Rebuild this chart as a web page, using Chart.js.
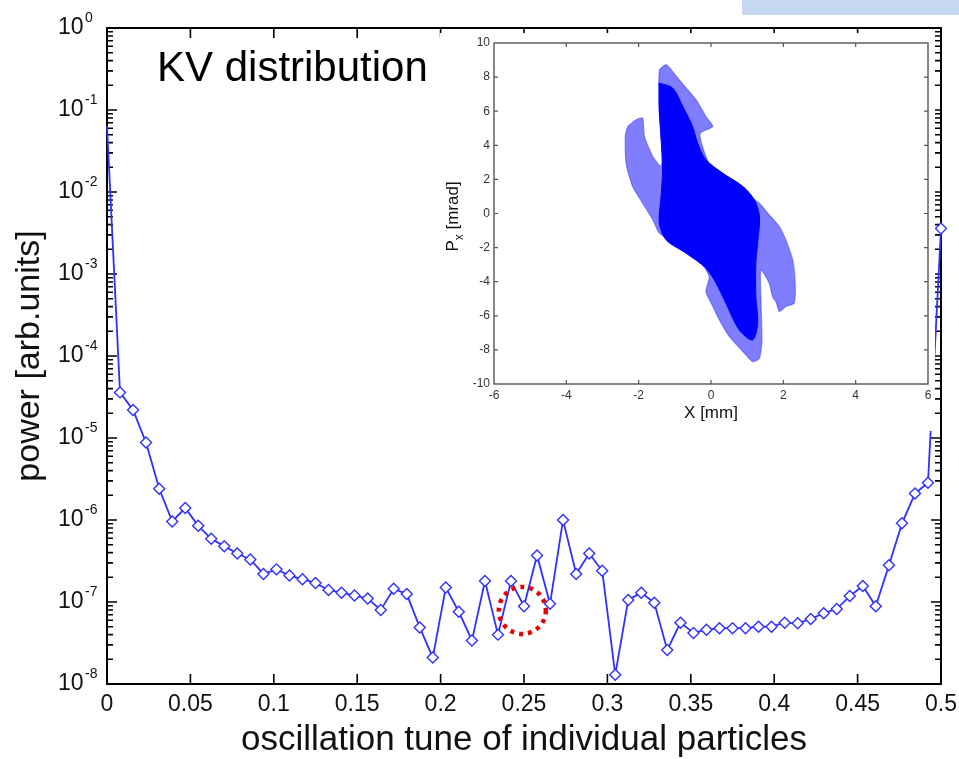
<!DOCTYPE html>
<html><head><meta charset="utf-8">
<script src="https://cdn.jsdelivr.net/npm/chart.js@4.4.1/dist/chart.umd.min.js"></script>
<style>
html,body{margin:0;padding:0;background:#fff;}
#wrap{position:relative;width:959px;height:759px;overflow:hidden;background:#fff;}
#main{position:absolute;left:0;top:0;}
#inset{position:absolute;left:440px;top:33px;background:#fff;}
#band{position:absolute;left:742px;top:0;width:217px;height:15px;background:#c6d9f1;}
</style></head><body>
<div id="wrap">
<canvas id="main" width="959" height="759"></canvas>
<canvas id="inset" width="495" height="398"></canvas>
<div id="band"></div>
</div>
<script>
// ---------- main chart data ----------
const tune = [0,0.0078,0.0156,0.0234,0.0313,0.0391,0.0469,0.0547,0.0625,0.0703,
  0.0781,0.0859,0.0938,0.1016,0.1094,0.1172,0.125,0.1328,0.1406,0.1484,
  0.1563,0.1641,0.1719,0.1797,0.1875,0.1953,0.2031,0.2109,0.2188,0.2266,
  0.2344,0.2422,0.25,0.2578,0.2656,0.2734,0.2813,0.2891,0.2969,0.3047,
  0.3125,0.3203,0.3281,0.3359,0.3438,0.3516,0.3594,0.3672,0.375,0.3828,
  0.3906,0.3984,0.4063,0.4141,0.4219,0.4297,0.4375,0.4453,0.4531,0.4609,
  0.4688,0.4766,0.4844,0.4922,0.5];
const power = [6.4e-2,3.6e-5,2.2e-5,8.8e-6,2.4e-6,9.6e-7,1.4e-6,8.5e-7,5.9e-7,4.8e-7,
  3.9e-7,3.3e-7,2.2e-7,2.5e-7,2.1e-7,1.9e-7,1.7e-7,1.4e-7,1.3e-7,1.2e-7,
  1.1e-7,8.0e-8,1.45e-7,1.25e-7,4.9e-8,2.1e-8,1.5e-7,7.6e-8,3.4e-8,1.8e-7,
  4.0e-8,1.8e-7,8.9e-8,3.7e-7,9.5e-8,1.0e-6,2.2e-7,3.9e-7,2.4e-7,1.3e-8,
  1.06e-7,1.3e-7,9.8e-8,2.6e-8,5.6e-8,4.2e-8,4.6e-8,4.8e-8,4.8e-8,4.8e-8,
  5.0e-8,5.0e-8,5.6e-8,5.5e-8,6.2e-8,7.3e-8,8.2e-8,1.18e-7,1.57e-7,8.9e-8,
  2.8e-7,9.1e-7,2.1e-6,2.85e-6,3.6e-3];
const xTicks = [0,0.05,0.1,0.15,0.2,0.25,0.3,0.35,0.4,0.45,0.5];
const xTickLabels = ['0','0.05','0.1','0.15','0.2','0.25','0.3','0.35','0.4','0.45','0.5'];
const yDecades = [1,1e-1,1e-2,1e-3,1e-4,1e-5,1e-6,1e-7,1e-8];
const yExponents = ['0','-1','-2','-3','-4','-5','-6','-7','-8'];
const chartTitle = 'KV distribution';
const xTitle = 'oscillation tune of individual particles';
const yTitle = 'power [arb.units]';
const markTune = 0.249, markPower = 7.9e-8;

// ---------- inset data ----------
const insetXTicks = [-6,-4,-2,0,2,4,6];
const insetYTicks = [-10,-8,-6,-4,-2,0,2,4,6,8,10];
const insetXTitle = 'X [mm]';
const insetYTitleMain = 'P', insetYTitleSub = 'x', insetYTitleRest = ' [mrad]';
const blobOuterX = [-1.43,-1.24,-0.88,-0.41,-0.14,0.05,-0.3,-0.23,-0.05,0.32,0.97,1.34,1.61,1.89,2.07,2.26,2.33,2.3,2.07,1.89,1.8,1.7,1.61,1.38,1.38,1.41,1.34,1.15,0.88,0.51,0.23,0.05,-0.14,-0.05,-0.32,-0.88,-1.43,-1.61,-1.89,-2.17,-2.35,-2.37,-2.3,-2.07,-1.89,-1.84,-1.61,-1.38,-1.34,-1.43,-1.45,-1.43];
const blobOuterY = [8.43,8.73,7.85,6.67,5.69,5.1,4.7,3.9,2.95,2.37,1.19,0.6,-0.08,-0.76,-1.55,-2.72,-4.09,-5.26,-5.46,-5.75,-5.2,-4.87,-4.09,-3.3,-4.87,-7.42,-8.49,-8.69,-8.1,-7.22,-6.24,-5.46,-4.58,-3.7,-2.72,-1.94,-1.15,-0.37,0.6,1.59,2.95,4.52,5.1,5.5,5.6,4.52,3.35,2.76,3.93,5.89,7.46,8.43];
const blobCoreX = [-1.43,-1.06,-0.78,-0.51,-0.37,-0.14,0.32,0.88,1.2,1.34,1.29,1.24,1.24,1.29,1.15,0.78,0.41,0.14,-0.14,-0.69,-1.24,-1.43,-1.38,-1.34,-1.38,-1.43,-1.43];
const blobCoreY = [7.65,7.36,6.28,5.11,4.13,3.15,2.37,1.59,0.8,-0.18,-1.74,-2.92,-4.87,-6.44,-7.42,-6.83,-5.26,-4.09,-3.21,-2.33,-1.55,-0.57,1.0,2.56,4.32,6.08,7.65];

const FONT = "'Liberation Sans', Arial, Helvetica, sans-serif";

// ---------- main chart decorations ----------
const mainDecor = {
  id: 'mainDecor',
  beforeDatasetsDraw(chart) {
    const {ctx, chartArea: a, scales: {x, y}} = chart;
    ctx.save();
    ctx.strokeStyle = '#000';
    ctx.lineWidth = 1.6;
    ctx.beginPath();
    xTicks.forEach(v => {
      if (v === xTicks[0] || v === xTicks[xTicks.length - 1]) return;
      const px = x.getPixelForValue(v);
      ctx.moveTo(px, a.bottom); ctx.lineTo(px, a.bottom - 10);
      ctx.moveTo(px, a.top); ctx.lineTo(px, a.top + 10);
    });
    yDecades.forEach((d, i) => {
      const py = y.getPixelForValue(d);
      ctx.moveTo(a.left, py); ctx.lineTo(a.left + 10, py);
      ctx.moveTo(a.right, py); ctx.lineTo(a.right - 10, py);
      if (i < yDecades.length - 1) {
        for (let m = 2; m <= 9; m++) {
          const pm = y.getPixelForValue(d / 10 * m);
          ctx.moveTo(a.left, pm); ctx.lineTo(a.left + 6, pm);
          ctx.moveTo(a.right, pm); ctx.lineTo(a.right - 6, pm);
        }
      }
    });
    ctx.stroke();
    ctx.lineWidth = 2;
    ctx.strokeRect(a.left, a.top, a.right - a.left, a.bottom - a.top);
    // y tick labels 10^k
    ctx.fillStyle = '#111';
    yDecades.forEach((d, i) => {
      const py = y.getPixelForValue(d);
      ctx.font = '23px ' + FONT;
      ctx.textAlign = 'right'; ctx.textBaseline = 'alphabetic';
      ctx.fillText('10', 83.5, py + 6);
      ctx.font = '14px ' + FONT;
      ctx.textAlign = 'left';
      ctx.fillText(yExponents[i], 85, py - 6);
    });
    // title
    ctx.font = '42px ' + FONT;
    ctx.textAlign = 'left'; ctx.textBaseline = 'alphabetic';
    ctx.fillStyle = '#000';
    ctx.fillText(chartTitle, 157, 81);
    ctx.restore();
  },
  afterDatasetsDraw(chart) {
    const {ctx, scales: {x, y}} = chart;
    ctx.save();
    ctx.strokeStyle = '#e80000';
    ctx.lineWidth = 4.5;
    ctx.setLineDash([4, 5]);
    ctx.beginPath();
    ctx.arc(x.getPixelForValue(markTune), y.getPixelForValue(markPower), 23.5, 0, Math.PI * 2);
    ctx.stroke();
    ctx.restore();
  }
};

new Chart(document.getElementById('main'), {
  type: 'line',
  data: {
    datasets: [{
      data: tune.map((t, i) => ({x: t, y: power[i]})),
      borderColor: '#3030ff',
      borderWidth: 1.8,
      pointStyle: 'rectRot',
      pointRadius: ctx => ctx.dataIndex === 0 ? 0 : 5.5,
      pointBorderColor: '#3030ff',
      pointBackgroundColor: '#fff',
      pointBorderWidth: 1.4,
      tension: 0,
      fill: false,
      clip: 10
    }]
  },
  options: {
    responsive: false,
    animation: false,
    layout: {padding: {top: 28, right: 18, left: 0, bottom: 0}, autoPadding: false},
    plugins: {legend: {display: false}, tooltip: {enabled: false}},
    scales: {
      x: {
        type: 'linear', min: 0, max: 0.5,
        afterBuildTicks: s => { s.ticks = xTicks.map(v => ({value: v})); },
        afterFit: s => { s.height = 75; s.paddingLeft = 0; s.paddingRight = 0; },
        grid: {display: false, drawTicks: false},
        border: {display: false},
        ticks: {font: {family: FONT, size: 23}, color: '#111', padding: 7, maxRotation: 0, autoSkip: false,
                callback: (v, i) => xTickLabels[i]},
        title: {display: true, text: xTitle, font: {family: FONT, size: 35, lineHeight: 1}, color: '#111',
                padding: {top: 0, bottom: 1}}
      },
      y: {
        type: 'logarithmic', min: 1e-8, max: 1,
        afterFit: s => { s.width = 107; s.paddingTop = 0; s.paddingBottom = 0; },
        grid: {display: false, drawTicks: false},
        border: {display: false},
        ticks: {display: false},
        title: {display: true, text: yTitle, font: {family: FONT, size: 34, lineHeight: 1}, color: '#111',
                padding: {top: 13, bottom: 0}}
      }
    }
  },
  plugins: [mainDecor]
});

// ---------- inset ----------
const insetDecor = {
  id: 'insetDecor',
  afterDatasetsDraw(chart) {
    const {ctx, chartArea: a, scales: {x, y}} = chart;
    ctx.save();
    ctx.strokeStyle = '#555';
    ctx.lineWidth = 1.2;
    ctx.beginPath();
    insetXTicks.slice(1, -1).forEach(v => {
      const px = x.getPixelForValue(v);
      ctx.moveTo(px, a.bottom); ctx.lineTo(px, a.bottom - 4);
      ctx.moveTo(px, a.top); ctx.lineTo(px, a.top + 4);
    });
    insetYTicks.slice(1, -1).forEach(v => {
      const py = y.getPixelForValue(v);
      ctx.moveTo(a.left, py); ctx.lineTo(a.left + 4, py);
      ctx.moveTo(a.right, py); ctx.lineTo(a.right - 4, py);
    });
    ctx.stroke();
    ctx.lineWidth = 1.4;
    ctx.strokeRect(a.left, a.top, a.right - a.left, a.bottom - a.top);
    // y title with subscript
    ctx.fillStyle = '#111';
    ctx.translate(18, (a.top + a.bottom) / 2 + 3);
    ctx.rotate(-Math.PI / 2);
    ctx.textBaseline = 'alphabetic';
    ctx.textAlign = 'left';
    const big = '17px ' + FONT, small = '12px ' + FONT;
    ctx.font = big; const w1 = ctx.measureText(insetYTitleMain).width;
    const w3 = ctx.measureText(insetYTitleRest).width;
    ctx.font = small; const w2 = ctx.measureText(insetYTitleSub).width;
    let sx = -(w1 + w2 + w3) / 2;
    ctx.font = big; ctx.fillText(insetYTitleMain, sx, 0); sx += w1;
    ctx.font = small; ctx.fillText(insetYTitleSub, sx, 5); sx += w2;
    ctx.font = big; ctx.fillText(insetYTitleRest, sx, 0);
    ctx.restore();
  }
};

new Chart(document.getElementById('inset'), {
  type: 'scatter',
  data: {
    datasets: [{
      data: blobCoreX.map((v, i) => ({x: v, y: blobCoreY[i]})),
      showLine: true, fill: 'shape', tension: 0.3,
      backgroundColor: '#0000ff', borderColor: '#0000ff', borderWidth: 1, pointRadius: 0
    }, {
      data: blobOuterX.map((v, i) => ({x: v, y: blobOuterY[i]})),
      showLine: true, fill: 'shape', tension: 0.2,
      backgroundColor: 'rgba(20,20,255,0.55)', borderColor: 'rgba(0,0,255,0.35)', borderWidth: 1.2, pointRadius: 0
    }]
  },
  options: {
    responsive: false,
    animation: false,
    layout: {padding: {top: 10, right: 7, left: 0, bottom: 0}, autoPadding: false},
    plugins: {legend: {display: false}, tooltip: {enabled: false}},
    scales: {
      x: {
        type: 'linear', min: -6, max: 6,
        afterBuildTicks: s => { s.ticks = insetXTicks.map(v => ({value: v})); },
        afterFit: s => { s.height = 47; s.paddingLeft = 0; s.paddingRight = 0; },
        grid: {display: false, drawTicks: false}, border: {display: false},
        ticks: {font: {family: FONT, size: 12}, color: '#333', padding: 4, maxRotation: 0, autoSkip: false,
                callback: (v, i) => String(insetXTicks[i])},
        title: {display: true, text: insetXTitle, font: {family: FONT, size: 17, lineHeight: 1}, color: '#111',
                padding: {top: 0, bottom: 9}}
      },
      y: {
        type: 'linear', min: -10, max: 10,
        afterBuildTicks: s => { s.ticks = insetYTicks.map(v => ({value: v})); },
        afterFit: s => { s.width = 54; s.paddingTop = 0; s.paddingBottom = 0; },
        grid: {display: false, drawTicks: false}, border: {display: false},
        ticks: {font: {family: FONT, size: 12}, color: '#333', padding: 4, autoSkip: false,
                callback: (v, i) => String(insetYTicks[i])}
      }
    }
  },
  plugins: [insetDecor]
});
</script>
</body></html>
